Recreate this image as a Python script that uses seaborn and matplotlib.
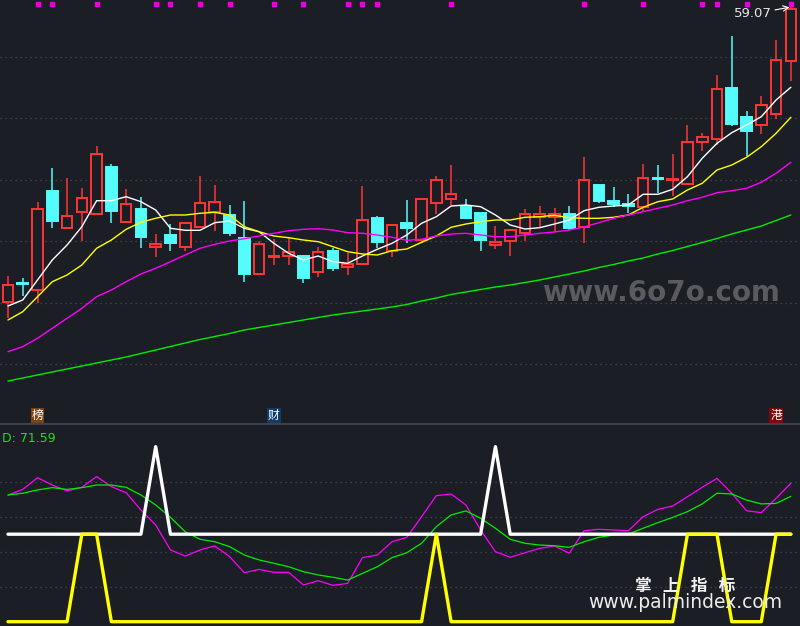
import numpy as np
import pandas as pd
import matplotlib
matplotlib.use("Agg")
import matplotlib.pyplot as plt
import seaborn as sns

BG = "#1c1e26"
RED = "#ff3535"
CYAN = "#54fcfc"

# daily candles (price units), 54 sessions
opens = [29.60, 31.42, 30.74, 40.67, 36.94, 38.54, 38.34, 43.04, 37.54, 38.84,
         35.04, 36.24, 35.04, 37.04, 38.54, 38.27, 35.94, 32.34, 34.04, 34.20,
         34.17, 32.54, 34.67, 33.10, 33.40, 37.94, 34.67, 37.47, 35.77, 39.44,
         39.84, 39.17, 38.47, 35.24, 35.64, 36.44, 38.04, 38.10, 38.34, 37.04,
         41.27, 39.67, 39.37, 39.10, 41.92, 41.77, 41.34, 45.54, 45.84, 50.94,
         48.07, 47.30, 48.40, 53.64]
highs = [32.17, 31.97, 39.54, 42.94, 41.97, 40.97, 45.17, 43.34, 40.84, 40.04,
         36.34, 37.34, 37.54, 42.17, 41.27, 39.27, 39.67, 35.67, 35.87, 36.00,
         34.27, 35.07, 35.00, 34.44, 41.17, 38.17, 37.24, 39.77, 39.84, 42.17,
         43.27, 39.84, 38.47, 37.14, 36.84, 38.84, 39.17, 38.94, 39.17, 44.10,
         41.27, 41.04, 40.37, 43.37, 43.27, 44.37, 47.27, 46.44, 52.27, 56.17,
         48.67, 50.17, 55.77, 59.07]
lows = [27.97, 30.20, 29.44, 36.99, 36.94, 35.70, 38.34, 37.50, 37.54, 35.00,
        34.10, 34.70, 34.70, 37.04, 36.70, 36.20, 31.60, 32.34, 33.27, 33.27,
        31.44, 32.10, 32.70, 32.30, 33.40, 35.00, 34.10, 35.44, 35.44, 38.37,
        39.27, 37.84, 34.70, 34.90, 34.20, 35.70, 37.10, 36.60, 36.77, 35.44,
        39.50, 39.04, 38.44, 38.60, 40.44, 40.20, 41.34, 44.70, 45.27, 47.17,
        44.17, 46.37, 47.84, 51.70]
closes = [31.24, 31.32, 38.84, 37.70, 38.14, 39.94, 44.34, 38.70, 39.34, 36.10,
          35.34, 35.50, 37.44, 39.44, 39.54, 36.44, 32.40, 35.37, 34.14, 34.54,
          32.00, 34.54, 33.00, 33.37, 37.74, 35.60, 37.24, 37.00, 39.84, 41.74,
          40.34, 38.00, 35.80, 35.54, 36.74, 38.34, 38.34, 38.34, 37.00, 41.74,
          39.67, 39.40, 39.20, 41.94, 41.82, 41.87, 45.54, 46.04, 50.84, 47.37,
          46.70, 49.24, 53.74, 58.84]

# moving averages
ma5 = [29.17, 29.77, 31.77, 33.77, 35.27, 37.10, 39.70, 39.70, 40.10, 39.60,
       38.77, 36.94, 36.74, 36.74, 37.50, 37.67, 36.94, 36.60, 35.44, 34.44,
       33.77, 34.17, 33.60, 33.44, 34.17, 34.84, 35.44, 36.27, 37.44, 38.10,
       39.17, 39.27, 39.10, 38.27, 37.27, 36.87, 37.00, 37.37, 37.77, 38.70,
       39.04, 39.17, 39.27, 40.34, 40.34, 40.84, 42.10, 43.94, 45.44, 46.50,
       47.27, 48.10, 49.77, 51.04]
ma10 = [27.77, 28.60, 30.10, 31.60, 32.27, 33.27, 34.94, 35.77, 36.84, 37.54,
        37.94, 38.27, 38.27, 38.44, 38.54, 38.27, 37.10, 36.60, 36.17, 36.00,
        35.77, 35.60, 35.10, 34.60, 34.37, 34.27, 34.70, 34.87, 35.54, 36.17,
        37.04, 37.37, 37.60, 37.77, 37.77, 38.04, 38.10, 38.24, 38.00, 37.94,
        37.94, 38.04, 38.27, 39.04, 39.60, 39.87, 40.77, 41.44, 42.77, 43.27,
        44.04, 45.10, 46.44, 48.04]
ma20 = [24.60, 25.10, 25.94, 26.94, 27.94, 28.94, 30.10, 30.77, 31.60, 32.37,
        32.94, 33.60, 34.27, 34.94, 35.34, 35.67, 35.90, 36.17, 36.44, 36.70,
        36.84, 36.90, 36.77, 36.50, 36.44, 36.27, 36.04, 35.74, 35.84, 36.17,
        36.37, 36.44, 36.27, 36.10, 36.10, 36.27, 36.44, 36.57, 36.77, 37.07,
        37.50, 37.94, 38.27, 38.60, 38.94, 39.27, 39.70, 40.04, 40.50, 40.70,
        40.94, 41.54, 42.44, 43.54]
ma60 = [21.67, 21.97, 22.27, 22.57, 22.87, 23.17, 23.47, 23.77, 24.07, 24.42,
        24.77, 25.12, 25.47, 25.82, 26.12, 26.42, 26.77, 27.02, 27.27, 27.52,
        27.77, 28.02, 28.27, 28.47, 28.67, 28.87, 29.07, 29.32, 29.67, 29.97,
        30.32, 30.57, 30.82, 31.07, 31.27, 31.52, 31.77, 32.07, 32.37, 32.67,
        33.02, 33.32, 33.67, 33.97, 34.37, 34.72, 35.12, 35.52, 35.92, 36.37,
        36.77, 37.17, 37.72, 38.27]

# lower indicator panel
k_line = [72.4, 75.6, 82.3, 78.1, 74.7, 76.8, 82.9, 77.2, 73.7, 63.8,
          55.3, 41.0, 37.5, 41.0, 43.3, 37.2, 28.0, 29.9, 28.2, 28.2,
          21.0, 23.4, 20.8, 21.9, 36.6, 38.1, 45.7, 48.2, 60.0, 72.0,
          73.0, 66.7, 52.4, 40.0, 36.8, 39.4, 41.9, 43.3, 39.1, 52.0,
          52.8, 52.4, 52.0, 60.0, 64.2, 66.1, 71.4, 76.8, 81.9, 73.4,
          63.4, 62.3, 70.5, 79.1]
d_line = [72.4, 73.4, 75.3, 76.6, 75.6, 76.6, 78.1, 78.1, 76.8, 72.4,
          66.7, 59.6, 51.4, 47.1, 45.7, 42.9, 38.1, 35.3, 33.4, 31.4,
          28.6, 26.7, 25.4, 23.8, 27.6, 31.4, 36.6, 39.4, 44.8, 54.3,
          61.0, 63.3, 59.1, 53.4, 47.1, 44.8, 43.8, 43.4, 42.5, 45.7,
          48.2, 49.5, 50.1, 53.4, 56.6, 59.6, 62.9, 67.3, 73.4, 73.0,
          69.5, 67.3, 67.6, 71.59]
white_sig = [50, 50, 50, 50, 50, 50, 50, 50, 50, 50,
             100, 50, 50, 50, 50, 50, 50, 50, 50, 50,
             50, 50, 50, 50, 50, 50, 50, 50, 50, 50,
             50, 50, 50, 100, 50, 50, 50, 50, 50, 50,
             50, 50, 50, 50, 50, 50, 50, 50, 50, 50,
             50, 50, 50, 50]
yellow_sig = [0, 0, 0, 0, 0, 50, 50, 0, 0, 0,
              0, 0, 0, 0, 0, 0, 0, 0, 0, 0,
              0, 0, 0, 0, 0, 0, 0, 0, 0, 50,
              0, 0, 0, 0, 0, 0, 0, 0, 0, 0,
              0, 0, 0, 0, 0, 0, 50, 50, 50, 0,
              0, 0, 50, 50]

signal_days = [2, 3, 6, 10, 11, 13, 15, 18, 20, 23, 24, 25, 30, 39, 43, 47, 48, 50, 53]
tag_days = [2, 18, 52]
tag_text = ["榜", "财", "港"]
tag_colors = ["#7a4513", "#123a6b", "#7d0a0a"]


df = pd.DataFrame({"idx": np.arange(len(opens)), "open": opens, "high": highs,
                   "low": lows, "close": closes, "ma5": ma5, "ma10": ma10,
                   "ma20": ma20, "ma60": ma60, "k": k_line, "d": d_line,
                   "white": white_sig, "yellow": yellow_sig})

sns.set_theme(style="dark", rc={"axes.facecolor": BG, "figure.facecolor": BG})
plt.rcParams["font.family"] = ["DejaVu Sans", "Noto Sans CJK SC"]

fig = plt.figure(figsize=(8, 6.26), dpi=100)
ax = fig.add_axes([0, 0.3227, 1, 0.6773])
ax2 = fig.add_axes([0, 0, 1, 0.3227])
xlim = (-0.54, 53.62)

# ---- candles ----
up = df["close"] >= df["open"]
body_bot = np.minimum(df["open"], df["close"])
body_h = np.maximum((df["close"] - df["open"]).abs(), 0.12)
edge = np.where(up, RED, CYAN)
face = np.where(up, BG, CYAN)
ax.vlines(df["idx"], df["low"], df["high"], colors=edge, lw=1.1, zorder=1)
ax.bar(df["idx"], body_h, bottom=body_bot, width=0.72, color=face,
       edgecolor=edge, linewidth=1.4, zorder=1.2)

sns.lineplot(data=df, x="idx", y="ma5", ax=ax, color="#ffffff", lw=1.0)
sns.lineplot(data=df, x="idx", y="ma10", ax=ax, color="#ffff00", lw=1.0)
sns.lineplot(data=df, x="idx", y="ma20", ax=ax, color="#ff00ff", lw=1.0)
sns.lineplot(data=df, x="idx", y="ma60", ax=ax, color="#00ee00", lw=1.0)

# signal dots along the top edge
ax.scatter(signal_days, [0.99] * len(signal_days), marker="s", s=9, color="#e400e4",
           transform=ax.get_xaxis_transform(), zorder=5, clip_on=False)

# tags above the divider
for d, t, c in zip(tag_days, tag_text, tag_colors):
    ax.text(d, 0.019, t, transform=ax.get_xaxis_transform(), ha="center", va="center",
            fontsize=8.5, color="white", family=["Noto Sans CJK SC"],
            bbox=dict(boxstyle="square,pad=0.08", fc=c, ec="none"))

# max price label
imax = int(df["high"].idxmax())
ax.annotate(f"{df['high'].max():.2f}", xy=(imax, df["high"].max()), xytext=(-38, -7),
            textcoords="offset pixels", ha="center", va="center", fontsize=9.5,
            color="#e6e6e6",
            arrowprops=dict(arrowstyle="->", color="white", lw=0.8, shrinkA=14, shrinkB=1))

ax.text(0.826, 0.309, "www.6o7o.com", transform=ax.transAxes, ha="center", va="center",
        fontsize=20, fontweight="bold", color="#5b5b5f", zorder=0.5)

ax.set_xlim(xlim)
ax.set_ylim(17.37, 59.77)
ax.set_yticks(np.linspace(23.37, 54.07, 6))
ax.set_xticks([])
ax.grid(axis="y", color="#4a4d56", linestyle=(0, (1, 3)), lw=0.9)
ax.set_xlabel("")
ax.set_ylabel("")
ax.tick_params(left=False, labelleft=False, bottom=False, labelbottom=False)
for s in ax.spines.values():
    s.set_visible(False)

# ---- indicator panel ----
sns.lineplot(data=df, x="idx", y="k", ax=ax2, color="#ff00ff", lw=0.9)
sns.lineplot(data=df, x="idx", y="d", ax=ax2, color="#00ee00", lw=0.9)
sns.lineplot(data=df, x="idx", y="white", ax=ax2, color="#ffffff", lw=2.4)
sns.lineplot(data=df, x="idx", y="yellow", ax=ax2, color="#ffff00", lw=2.4)

ax2.text(0.003, 0.93, f"D: {d_line[-1]:.2f}", transform=ax2.transAxes, ha="left",
         va="center", fontsize=9, color="#22dd22")
ax2.text(0.856, 0.2, "掌   上   指   标", transform=ax2.transAxes, ha="center", va="center",
         fontsize=12, fontweight="bold", color="#f0f0f0", family=["Noto Sans CJK SC"])
ax2.text(0.856, 0.115, "www.palmindex.com", transform=ax2.transAxes, ha="center",
         va="center", fontsize=13.5, color="#ececec")

ax2.set_xlim(xlim)
ax2.set_ylim(-2.46, 112.97)
ax2.set_yticks([20, 40, 60, 80])
ax2.set_xticks([])
ax2.grid(axis="y", color="#4a4d56", linestyle=(0, (1, 3)), lw=0.9)
ax2.set_xlabel("")
ax2.set_ylabel("")
ax2.tick_params(left=False, labelleft=False, bottom=False, labelbottom=False)
for s in ax2.spines.values():
    s.set_visible(False)
ax2.spines["top"].set_visible(True)
ax2.spines["top"].set_color("#3e414b")
ax2.spines["top"].set_linewidth(1.5)

fig.savefig("out.png", dpi=100, facecolor=BG)
